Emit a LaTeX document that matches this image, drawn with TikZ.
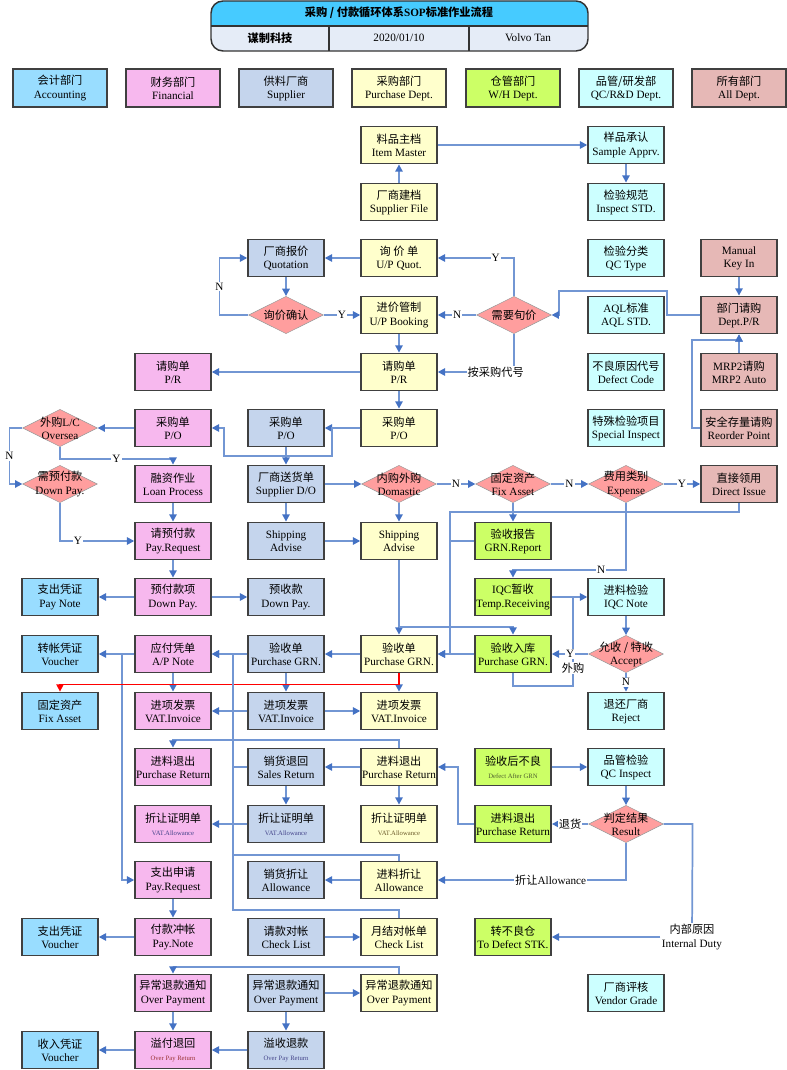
\documentclass[tikz,border=0pt]{standalone}
\usepackage{fontspec}
\setmainfont{Liberation Serif}
\newfontfamily\cjk{Noto Sans CJK SC}
\usepackage{xcolor}
\usepackage{tikz}
\usetikzlibrary{arrows.meta,positioning,shapes.geometric}
\definecolor{acc}{HTML}{99DDFF}
\definecolor{finc}{HTML}{F7B8EE}
\definecolor{supc}{HTML}{C5D5ED}
\definecolor{purc}{HTML}{FFFFCC}
\definecolor{whc}{HTML}{CCFF66}
\definecolor{qcc}{HTML}{CCFFFF}
\definecolor{allc}{HTML}{E6B8B6}
\definecolor{diac}{HTML}{FF9E9E}
\definecolor{lnk}{HTML}{7296D3}
\definecolor{lnkdk}{HTML}{4472C4}
\definecolor{ttop}{HTML}{46CBFF}
\definecolor{tbot}{HTML}{E5ECF7}
\definecolor{smblue}{HTML}{44448A}
\definecolor{smred}{HTML}{993333}
\definecolor{smolive}{HTML}{6B5A2A}
\definecolor{smgreen}{HTML}{4F5F2F}
\newcommand{\zh}[1]{{\cjk #1}}
\begin{document}
\begin{tikzpicture}[x=0.75pt,y=-0.75pt,font=\fontsize{8.4}{9.8}\selectfont,
  box/.style={draw=black!75,line width=1.1pt,align=center,minimum width=57pt,minimum height=28pt,inner sep=1pt},
  dept/.style={box,line width=1.5pt,minimum width=71pt},
  ac/.style={box,fill=acc},fn/.style={box,fill=finc},sp/.style={box,fill=supc},
  pu/.style={box,fill=purc},wh/.style={box,fill=whc},qc/.style={box,fill=qcc},al/.style={box,fill=allc},
  dec/.style={diamond,aspect=2,draw=black!40,line width=0.4pt,fill=diac,minimum width=56pt,minimum height=28pt,inner sep=0pt},
  ar/.style={draw=lnk,line width=1.3pt,-{Triangle[length=5.5pt,width=5.5pt,color=lnkdk]}},
  ln/.style={draw=lnk,line width=1.3pt},
  redar/.style={draw=red,line width=1.1pt,-{Triangle[length=5.5pt,width=5.5pt]}},
  lb/.style={fill=white,inner sep=0.8pt}]
\useasboundingbox (0,0) rectangle (787,1070);
\fill[tbot,rounded corners=9pt] (211,1) rectangle (588,51);
\begin{scope}
\clip (200,0) rectangle (600,26);
\fill[ttop,rounded corners=9pt] (211,1) rectangle (588,51);
\end{scope}
\draw[black!80,line width=1.1pt,rounded corners=9pt] (211,1) rectangle (588,51);
\draw[black!80,line width=1.1pt] (211,26) -- (588,26) (329,26) -- (329,51) (469,26) -- (469,51);
\node[font=\fontsize{8.4}{9.8}\selectfont\bfseries] (title) at (399,13) {\zh{采购 / 付款循环体系}SOP\zh{标准作业流程}};
\node[font=\fontsize{8.4}{9.8}\selectfont\bfseries] (company) at (270,38) {\zh{谋制科技}};
\node (date) at (399,38) {2020/01/10};
\node (author) at (528,38) {Volvo Tan};

\node[dept,fill=acc] (lgacc) at (60,88) {\zh{会计部门}\\Accounting};
\node[dept,fill=finc] (lgfin) at (173,88) {\zh{财务部门}\\Financial};
\node[dept,fill=supc] (lgsup) at (286,88) {\zh{供料厂商}\\Supplier};
\node[dept,fill=purc] (lgpur) at (399,88) {\zh{采购部门}\\Purchase Dept.};
\node[dept,fill=whc] (lgwh) at (513,88) {\zh{仓管部门}\\W/H Dept.};
\node[dept,fill=qcc] (lgqc) at (626,88) {\zh{品管/研发部}\\QC/R\&D Dept.};
\node[dept,fill=allc] (lgall) at (739,88) {\zh{所有部门}\\All Dept.};

\node[pu] (itemmaster) at (399,145) {\zh{料品主档}\\Item Master};
\node[qc] (sample) at (626,145) {\zh{样品承认}\\Sample Apprv.};
\node[pu] (supfile) at (399,202) {\zh{厂商建档}\\Supplier File};
\node[qc] (inspstd) at (626,202) {\zh{检验规范}\\Inspect STD.};

\node[sp] (quot) at (286,258) {\zh{厂商报价}\\Quotation};
\node[pu] (upquot) at (399,258) {\zh{询\ 价\ 单}\\U/P Quot.};
\node[qc] (qctype) at (626,258) {\zh{检验分类}\\QC Type};
\node[al] (manual) at (739,258) {Manual\\Key In};

\node[dec,label={center:\zh{询价确认}}] (qconf) at (286,315) {};
\node[pu] (upbook) at (399,315) {\zh{进价管制}\\U/P Booking};
\node[dec,label={center:\zh{需要旬价}}] (needq) at (514,315) {};
\node[qc] (aql) at (626,315) {AQL\zh{标准}\\AQL STD.};
\node[al] (deptpr) at (739,315) {\zh{部门请购}\\Dept.P/R};

\node[fn] (prpink) at (173,372) {\zh{请购单}\\P/R};
\node[pu] (pryel) at (399,372) {\zh{请购单}\\P/R};
\node[qc] (defcode) at (626,372) {\zh{不良原因代号}\\Defect Code};
\node[al] (mrp) at (739,372) {MRP2\zh{请购}\\MRP2 Auto};

\node[dec,label={[align=center]center:{\zh{外购}L/C\\Oversea}}] (lc) at (60,428) {};
\node[fn] (popink) at (173,428) {\zh{采购单}\\P/O};
\node[sp] (poblue) at (286,428) {\zh{采购单}\\P/O};
\node[pu] (poyel) at (399,428) {\zh{采购单}\\P/O};
\node[qc] (specinsp) at (626,428) {\zh{特殊检验项目}\\Special Inspect};
\node[al] (reorder) at (739,428) {\zh{安全存量请购}\\Reorder Point};

\node[dec,label={[align=center]center:{\zh{需预付款}\\Down Pay.}}] (downq) at (60,484) {};
\node[fn] (loan) at (173,484) {\zh{融资作业}\\Loan Process};
\node[sp] (supdo) at (286,484) {\zh{厂商送货单}\\Supplier D/O};
\node[dec,label={[align=center]center:{\zh{内购外购}\\Domastic}}] (domq) at (399,484) {};
\node[dec,label={[align=center]center:{\zh{固定资产}\\Fix Asset}}] (fixq) at (513,484) {};
\node[dec,label={[align=center]center:{\zh{费用类别}\\Expense}}] (expq) at (626,484) {};
\node[al] (direct) at (739,484) {\zh{直接领用}\\Direct Issue};

\node[fn] (payreq1) at (173,541) {\zh{请预付款}\\Pay.Request};
\node[sp] (shipblue) at (286,541) {Shipping\\Advise};
\node[pu] (shipyel) at (399,541) {Shipping\\Advise};
\node[wh] (grnrep) at (513,541) {\zh{验收报告}\\GRN.Report};

\node[ac] (paynote) at (60,597) {\zh{支出凭证}\\Pay Note};
\node[fn] (dppink) at (173,597) {\zh{预付款项}\\Down Pay.};
\node[sp] (dpblue) at (286,597) {\zh{预收款}\\Down Pay.};
\node[wh] (iqc) at (513,597) {IQC\zh{暂收}\\Temp.Receiving};
\node[qc] (iqcnote) at (626,597) {\zh{进料检验}\\IQC Note};

\node[ac] (vch1) at (60,654) {\zh{转帐凭证}\\Voucher};
\node[fn] (apnote) at (173,654) {\zh{应付凭单}\\A/P Note};
\node[sp] (grnblue) at (286,654) {\zh{验收单}\\Purchase GRN.};
\node[pu] (grnyel) at (399,654) {\zh{验收单}\\Purchase GRN.};
\node[wh] (grngreen) at (513,654) {\zh{验收入库}\\Purchase GRN.};
\node[dec,label={[align=center]center:{\zh{允收 / 特收}\\Accept}}] (acceptq) at (626,654) {};

\node[ac] (fixacc) at (60,711) {\zh{固定资产}\\Fix Asset};
\node[fn] (vatpink) at (173,711) {\zh{进项发票}\\VAT.Invoice};
\node[sp] (vatblue) at (286,711) {\zh{进项发票}\\VAT.Invoice};
\node[pu] (vatyel) at (399,711) {\zh{进项发票}\\VAT.Invoice};
\node[qc] (reject) at (626,711) {\zh{退还厂商}\\Reject};

\node[fn] (prpink2) at (173,767) {\zh{进料退出}\\Purchase Return};
\node[sp] (salesret) at (286,767) {\zh{销货退回}\\Sales Return};
\node[pu] (pryel2) at (399,767) {\zh{进料退出}\\Purchase Return};
\node[wh] (defect) at (513,767) {\zh{验收后不良}\\{\tiny\color{smgreen}Defect After GRN}};
\node[qc] (qcinsp) at (626,767) {\zh{品管检验}\\QC Inspect};

\node[fn] (valpink) at (173,824) {\zh{折让证明单}\\{\tiny\color{smblue}VAT.Allowance}};
\node[sp] (valblue) at (286,824) {\zh{折让证明单}\\{\tiny\color{smblue}VAT.Allowance}};
\node[pu] (valyel) at (399,824) {\zh{折让证明单}\\{\tiny\color{smolive}VAT.Allowance}};
\node[wh] (prgreen) at (513,824) {\zh{进料退出}\\Purchase Return};
\node[dec,label={[align=center]center:{\zh{判定结果}\\Result}}] (resq) at (626,824) {};

\node[fn] (payreq2) at (173,880) {\zh{支出申请}\\Pay.Request};
\node[sp] (alwblue) at (286,880) {\zh{销货折让}\\Allowance};
\node[pu] (alwyel) at (399,880) {\zh{进料折让}\\Allowance};

\node[ac] (vch2) at (60,937) {\zh{支出凭证}\\Voucher};
\node[fn] (paynote2) at (173,937) {\zh{付款冲帐}\\Pay.Note};
\node[sp] (chkblue) at (286,937) {\zh{请款对帐}\\Check List};
\node[pu] (chkyel) at (399,937) {\zh{月结对帐单}\\Check List};
\node[wh] (todef) at (513,937) {\zh{转不良仓}\\To Defect STK.};
\node[align=center,fill=white,inner sep=1pt] (intduty) at (692,937) {\zh{内部原因}\\Internal Duty};

\node[fn] (oppink) at (173,993) {\zh{异常退款通知}\\Over Payment};
\node[sp] (opblue) at (286,993) {\zh{异常退款通知}\\Over Payment};
\node[pu] (opyel) at (399,993) {\zh{异常退款通知}\\Over Payment};
\node[qc] (vendor) at (626,993) {\zh{厂商评核}\\Vendor Grade};

\node[ac] (vch3) at (60,1050) {\zh{收入凭证}\\Voucher};
\node[fn] (oprpink) at (173,1050) {\zh{溢付退回}\\{\tiny\color{smred}Over Pay Return}};
\node[sp] (oprblue) at (286,1050) {\zh{溢收退款}\\{\tiny\color{smblue}Over Pay Return}};

\coordinate (jn) at (573,597);
\coordinate (sy) at (399,627);
\coordinate (ap) at (122,654);

\draw[ar] (supfile) -- (itemmaster);
\draw[ar] (itemmaster) -- (sample);
\draw[ar] (sample) -- (inspstd);
\draw[ar] (upquot) -- (quot);
\draw[ar] (quot) -- (qconf);
\draw[ar] (qconf.west) -- ++(-29,0) |- node[lb,pos=0.25]{N} (quot.west);
\draw[ar] (qconf) -- node[lb]{Y} (upbook);
\draw[ar] (needq.north) |- node[lb,pos=0.62]{Y} (upquot);
\draw[ar] (needq) -- node[lb]{N} (upbook);
\draw[ar] (needq.south) |- node[lb,pos=0.62]{\zh{按采购代号}} (pryel);
\draw[ar] (deptpr.west) -- ++(-33,0) |- (559,291) |- (needq.east);
\draw[ar] (manual) -- (deptpr);
\draw[ar] (mrp) -- (deptpr);
\draw[ar] (reorder.west) -- ++(-8,0) |- (739,340) -- (deptpr.south);
\draw[ar] (upbook) -- (pryel);
\draw[ar] (pryel) -- (poyel);
\draw[ar] (pryel) -- (prpink);
\draw[ar] (poyel) -- (poblue);
\draw[ar] (poyel.west) -- ++(-28,0) |- (224,456) |- (popink.east);
\draw[ar] (poblue) -- (supdo);
\draw[ar] (popink) -- (lc);
\draw[ar] (lc.south) |- node[lb,pos=0.75]{Y} (173,459) -- (loan);
\draw[ar] (lc.west) -- ++(-13,0) |- node[lb,pos=0.25]{N} (downq.west);
\draw[ar] (loan) -- (payreq1);
\draw[ar] (downq.south) |- node[lb,pos=0.62]{Y} (payreq1);
\draw[ar] (payreq1) -- (dppink);
\draw[ar] (dppink) -- (paynote);
\draw[ar] (dppink) -- (dpblue);
\draw[ar] (supdo) -- (shipblue);
\draw[ar] (supdo) -- (domq);
\draw[ar] (shipblue) -- (shipyel);
\draw[ar] (domq) -- (shipyel);
\draw[ar] (domq) -- node[lb]{N} (fixq);
\draw[ar] (fixq) -- node[lb]{N} (expq);
\draw[ar] (expq) -- node[lb]{Y} (direct);
\draw[ar] (fixq) -- (grnrep);
\draw[ar] (direct.south) |- (450,512) |- (grnyel.east);
\draw[ln] (grnrep.west) -- (450,541);
\draw[ar] (grngreen) -- (grnyel);
\draw[ar] (expq.south) |- node[lb,pos=0.61]{N} (513,570) -- (iqc);
\draw[ar] (iqc) -- (iqcnote);
\draw[ln] (jn) -- node[lb,pos=0.8]{\zh{外购}} (573,686) -| (grngreen.south);
\draw[ar] (iqcnote) -- (acceptq);
\draw[ar] (acceptq) -- node[lb]{N} (reject);
\draw[ar] (acceptq) -- node[lb]{Y} (grngreen);
\draw[ar] (shipyel) -- (grnyel);
\draw[ar] (sy) -| (grngreen.north);
\draw[ar] (grnyel) -- (grnblue);
\draw[ar] (grnblue) -- (apnote);
\draw[ar] (apnote) -- (vch1);
\draw[ar] (ap) |- (payreq2);
\draw[ar] (apnote) -- (vatpink);
\draw[ar] (grnblue) -- (vatblue);
\draw[ar] (grnyel) -- (vatyel);
\draw[redar] (grnyel.south) -- ++(0,11) -| (fixacc);
\draw[ar] (vatblue) -- (vatpink);
\draw[ar] (vatblue) -- (vatyel);
\draw[ar] (pryel2.north) |- (173,740) -- (prpink2);
\draw[ar] (pryel2) -- (salesret);
\draw[ar] (pryel2) -- (valyel);
\draw[ar] (salesret) -- (valblue);
\draw[ar] (valblue) -- (valpink);
\draw[ar] (prgreen.west) -- ++(-16,0) |- (pryel2.east);
\draw[ar] (defect) -- (qcinsp);
\draw[ar] (qcinsp) -- (resq);
\draw[ar] (resq) -- node[lb]{\zh{退货}} (prgreen);
\draw[ar] (resq.south) |- node[lb,pos=0.7]{\zh{折让}Allowance} (alwyel);
\draw[ln] (resq.east) -- ++(29,0) -- (intduty);
\draw[ar] (intduty) -- (todef);
\draw[ar] (alwyel) -- (alwblue);
\draw[ar] (chkyel.north) |- (233,910) |- (apnote.east);
\draw[ln] (alwyel.north) |- (233,855);
\draw[ln] (salesret.west) -- (233,767);
\draw[ar] (payreq2) -- (paynote2);
\draw[ar] (paynote2) -- (vch2);
\draw[ar] (chkblue) -- (chkyel);
\draw[ar] (opyel.north) |- (173,967) -- (oppink);
\draw[ar] (opblue) -- (opyel);
\draw[ar] (oppink) -- (oprpink);
\draw[ar] (opblue) -- (oprblue);
\draw[ar] (oprblue) -- (oprpink);
\draw[ar] (oprpink) -- (vch3);
\end{tikzpicture}
\end{document}
